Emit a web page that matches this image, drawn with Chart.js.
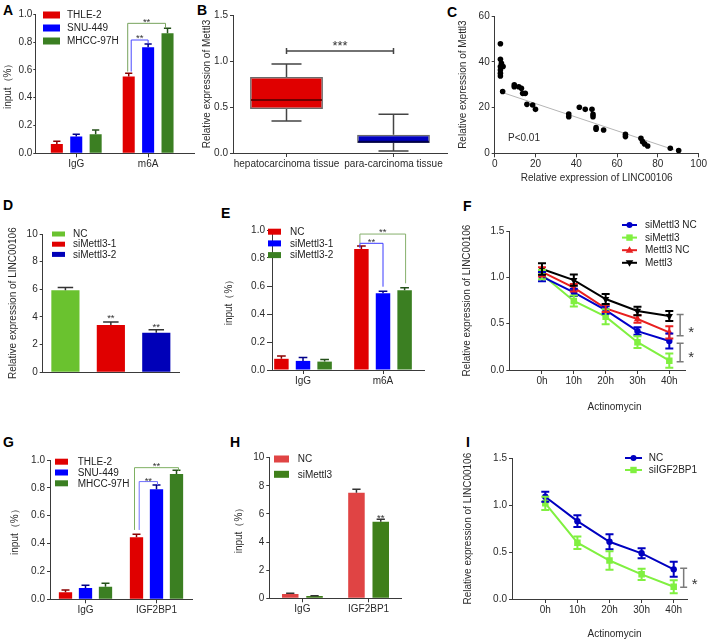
<!DOCTYPE html>
<html><head><meta charset="utf-8">
<script src="https://cdn.jsdelivr.net/npm/chart.js@4.4.1/dist/chart.umd.min.js"></script>
<style>
html,body{margin:0;padding:0;background:#fff;overflow:hidden}
#wrap{position:relative;width:708px;height:642px;background:#fff}
#wrap canvas{position:absolute}
.lt{position:absolute;font:bold 14px 'Liberation Sans',Arial,sans-serif;color:#000;line-height:14px}
</style></head><body><div id="wrap">
<div class="lt" style="left:3px;top:3px">A</div>
<div class="lt" style="left:197px;top:3px">B</div>
<div class="lt" style="left:447px;top:5px">C</div>
<div class="lt" style="left:3px;top:198px">D</div>
<div class="lt" style="left:221px;top:206px">E</div>
<div class="lt" style="left:463px;top:199px">F</div>
<div class="lt" style="left:3px;top:435px">G</div>
<div class="lt" style="left:230px;top:435px">H</div>
<div class="lt" style="left:466px;top:435px">I</div>
</div>
<script>
// ---------------- DATA ----------------
// Panel A
const catA = ['IgG', 'm6A'];
const seriesA = ['THLE-2', 'SNU-449', 'MHCC-97H'];
const valA_THLE = [0.067, 0.552];
const valA_SNU = [0.12, 0.763];
const valA_MHCC = [0.137, 0.863];
const errA_THLE = [0.02, 0.024];
const errA_SNU = [0.017, 0.024];
const errA_MHCC = [0.03, 0.036];
const ticksA = [0, 0.2, 0.4, 0.6, 0.8, 1.0];

// Panel B (box plot)
const catB = ['hepatocarcinoma tissue', 'para-carcinoma tissue'];
const minB = [0.348, 0.022];
const q1B = [0.478, 0.109];
const medB = [0.576, 0.123];
const q3B = [0.826, 0.199];
const maxB = [0.967, 0.42];
const ticksB = [0, 0.5, 1.0, 1.5];

// Panel C (scatter)
const xC = [2.8,2.8,3.3,2.8,2.8,4.1,2.8,2.8,3.9,9.6,9.6,11.8,13.1,13.7,15,15.8,18.6,20,36.3,36.3,41.5,44.4,47.7,48.2,48.2,49.7,49.7,53.4,64.1,64.1,71.7,72.5,73.5,75,86.1,90.2];
const yC = [47.9,41.1,39.3,37.9,36.4,37.9,35,33.8,27,29.9,29.1,29.1,28.4,26.2,26.2,21.4,21.1,19.2,17.2,16,20.1,19.2,19.2,17,16,11.2,10.5,10.2,8.3,7.3,6.6,5.1,4.1,3.2,2.2,1.2];
const fitXC = [4, 88];
const fitYC = [26.5, 1.5];
const ticksCx = [0, 20, 40, 60, 80, 100];
const ticksCy = [0, 20, 40, 60];

// Panel D
const catD = ['NC', 'siMettl3-1', 'siMettl3-2'];
const valD = [5.93, 3.42, 2.86];
const errD = [0.2, 0.22, 0.22];
const ticksD = [0, 2, 4, 6, 8, 10];

// Panel E
const catE = ['IgG', 'm6A'];
const seriesE = ['NC', 'siMettl3-1', 'siMettl3-2'];
const valE_NC = [0.08, 0.865];
const valE_si1 = [0.065, 0.548];
const valE_si2 = [0.06, 0.57];
const errE_NC = [0.02, 0.02];
const errE_si1 = [0.025, 0.015];
const errE_si2 = [0.015, 0.017];

// Panel F
const hoursF = [0, 10, 20, 30, 40];
const seriesF = ['siMettl3 NC', 'siMettl3', 'Mettl3 NC', 'Mettl3'];
const F_siNC = [1.007, 0.838, 0.647, 0.42, 0.313];
const F_si = [1.03, 0.745, 0.575, 0.3, 0.1];
const F_mNC = [1.06, 0.888, 0.665, 0.55, 0.406];
const F_m = [1.09, 0.97, 0.766, 0.637, 0.583];
const errF_siNC = [0.05, 0.04, 0.04, 0.04, 0.08];
const errF_si = [0.05, 0.06, 0.08, 0.063, 0.077];
const errF_mNC = [0.05, 0.04, 0.04, 0.04, 0.067];
const errF_m = [0.063, 0.06, 0.054, 0.045, 0.054];
const ticksLineY = [0, 0.5, 1.0, 1.5];

// Panel G
const catG = ['IgG', 'IGF2BP1'];
const seriesG = ['THLE-2', 'SNU-449', 'MHCC-97H'];
const valG_THLE = [0.05, 0.445];
const valG_SNU = [0.081, 0.79];
const valG_MHCC = [0.09, 0.9];
const errG_THLE = [0.017, 0.022];
const errG_SNU = [0.019, 0.03];
const errG_MHCC = [0.025, 0.026];

// Panel H
const catH = ['IgG', 'IGF2BP1'];
const seriesH = ['NC', 'siMettl3'];
const valH_NC = [0.31, 7.51];
const valH_si = [0.17, 5.45];
const errH_NC = [0.05, 0.24];
const errH_si = [0.02, 0.17];

// Panel I
const hoursI = [0, 10, 20, 30, 40];
const seriesI = ['NC', 'siIGF2BP1'];
const I_NC = [1.09, 0.83, 0.61, 0.487, 0.316];
const I_si = [1.02, 0.6, 0.41, 0.263, 0.13];
const errI_NC = [0.053, 0.062, 0.08, 0.053, 0.08];
const errI_si = [0.07, 0.066, 0.098, 0.06, 0.07];

// ---------------- HELPERS ----------------
const FF = "'Liberation Sans', Arial, Helvetica, sans-serif";
const AX = '#3a3a3a', TX = '#2a2a2a';
Chart.defaults.font.family = FF;
Chart.defaults.color = TX;
Chart.defaults.animation = false;
Chart.defaults.events = [];
Chart.defaults.plugins.legend.display = false;
Chart.defaults.plugins.tooltip.enabled = false;

const wrap = document.getElementById('wrap');
function makeCanvas(id, box) {
  const c = document.createElement('canvas');
  c.id = id; c.width = box[2]; c.height = box[3];
  c.style.left = box[0] + 'px'; c.style.top = box[1] + 'px';
  c.style.width = box[2] + 'px'; c.style.height = box[3] + 'px';
  wrap.appendChild(c); return c;
}
function frame(box, plot) {
  return { box, plot,
    pad: { left: 0, top: plot[1] - box[1], right: box[0] + box[2] - plot[2], bottom: 0 },
    yW: plot[0] - box[0], xH: box[1] + box[3] - plot[3] };
}
const f1 = v => Number(v).toFixed(1);
const f0 = v => String(v);

function yAxis(fr, o) {
  return {
    type: 'linear', position: 'left', min: o.min, max: o.max,
    afterBuildTicks: s => { s.ticks = o.ticks.map(v => ({ value: v })); },
    ticks: { color: TX, font: { family: FF, size: 10 }, padding: o.tp != null ? o.tp : 2, callback: v => o.fmt(v) },
    grid: { drawOnChartArea: false, drawTicks: true, tickLength: o.tl || 3, color: AX, lineWidth: 1 },
    border: { display: true, color: AX, width: 1 },
    title: { display: !!o.title, text: o.title || '', color: TX, font: { family: FF, size: 10 }, padding: { top: o.tpad || 0, bottom: 0 } },
    afterFit: s => { s.width = fr.yW; }
  };
}
function xCat(fr, o) {
  o = o || {};
  return {
    type: 'category', offset: true,
    afterBuildTicks: s => { if (o.start !== undefined) { s._startValue = o.start; s._valueRange = o.range; } },
    ticks: { display: o.labels !== false, color: TX, font: { family: FF, size: 10 }, padding: 1, autoSkip: false, maxRotation: 0, minRotation: 0 },
    grid: { offset: false, drawOnChartArea: false, drawTicks: o.marks !== false, tickLength: o.marks === false ? 0 : 4, color: AX },
    border: { display: true, color: AX, width: 1 },
    afterFit: s => { s.height = fr.xH; }
  };
}
function xLin(fr, o) {
  return {
    type: 'linear', min: o.min, max: o.max,
    afterBuildTicks: s => { s.ticks = o.ticks.map(v => ({ value: v })); },
    ticks: { color: TX, font: { family: FF, size: 10 }, padding: 1, autoSkip: false, maxRotation: 0, minRotation: 0, callback: v => o.fmt(v) },
    grid: { drawOnChartArea: false, drawTicks: true, tickLength: 4, color: AX },
    border: { display: true, color: AX, width: 1 },
    title: { display: !!o.title, text: o.title || '', color: TX, font: { family: FF, size: 10 }, padding: { top: 0, bottom: o.tpb || 0 } },
    afterFit: s => { s.height = fr.xH; }
  };
}

function errPlugin(o) {
  return { id: 'err', afterDatasetsDraw(chart) {
    const ctx = chart.ctx, ys = chart.scales.y;
    chart.data.datasets.forEach((ds, di) => {
      if (!ds.errors) return;
      const meta = chart.getDatasetMeta(di);
      meta.data.forEach((el, i) => {
        const e = ds.errors[i]; if (e == null) return;
        const raw = ds.data[i]; const val = (typeof raw === 'object') ? raw.y : raw;
        const yt = ys.getPixelForValue(val + e);
        const yb = o.both ? ys.getPixelForValue(val - e) : el.y;
        const cw = o.capPx != null ? o.capPx : el.width * o.capRatio;
        const col = Array.isArray(ds.errorColor) ? ds.errorColor[i] : (ds.errorColor || ds.borderColor);
        ctx.save(); ctx.strokeStyle = col; ctx.lineWidth = o.lw; ctx.beginPath();
        ctx.moveTo(el.x, yb); ctx.lineTo(el.x, yt);
        ctx.moveTo(el.x - cw / 2, yt); ctx.lineTo(el.x + cw / 2, yt);
        if (o.both) { ctx.moveTo(el.x - cw / 2, yb); ctx.lineTo(el.x + cw / 2, yb); }
        ctx.stroke(); ctx.restore();
      });
    });
  } };
}

function sigPlugin(items) {
  return { id: 'sig', afterDatasetsDraw(chart) {
    const ctx = chart.ctx, ys = chart.scales.y, xs = chart.scales.x;
    const bx = r => chart.getDatasetMeta(r[0]).data[r[1]].x + (r[2] || 0);
    const Y = v => ys.getPixelForValue(v);
    ctx.save();
    items.forEach(it => {
      ctx.strokeStyle = it.color || '#444'; ctx.lineWidth = it.lw || 1;
      let tx = 0;
      if (it.t === 'br') {
        const x1 = bx(it.a), x2 = bx(it.b);
        ctx.beginPath(); ctx.moveTo(x1, Y(it.ya)); ctx.lineTo(x1, Y(it.y)); ctx.lineTo(x2, Y(it.y)); ctx.lineTo(x2, Y(it.yb)); ctx.stroke();
        tx = (x1 + x2) / 2;
      } else if (it.t === 'hb') {
        const x1 = xs.getPixelForValue(it.a), x2 = xs.getPixelForValue(it.b), y = Y(it.y);
        ctx.beginPath(); ctx.moveTo(x1, y); ctx.lineTo(x2, y);
        ctx.moveTo(x1, y - it.cap); ctx.lineTo(x1, y + it.cap); ctx.moveTo(x2, y - it.cap); ctx.lineTo(x2, y + it.cap); ctx.stroke();
        tx = (x1 + x2) / 2;
      } else if (it.t === 'vb') {
        const x = xs.getPixelForValue(it.x), y1 = Y(it.y1), y2 = Y(it.y2);
        ctx.beginPath(); ctx.moveTo(x, y1); ctx.lineTo(x, y2);
        ctx.moveTo(x - it.cap, y1); ctx.lineTo(x + it.cap, y1); ctx.moveTo(x - it.cap, y2); ctx.lineTo(x + it.cap, y2); ctx.stroke();
        tx = x + it.tdx;
      } else if (it.t === 'st') {
        tx = bx(it.a);
      }
      if (it.text) {
        const sz = it.size || 9.5;
        ctx.fillStyle = it.tcolor || '#333'; ctx.font = sz + 'px ' + FF; ctx.textAlign = 'center'; ctx.textBaseline = 'alphabetic';
        ctx.fillText(it.text, tx, Y(it.ty) + 0.57 * sz);
      }
    });
    ctx.restore();
  } };
}

function textPlugin(fr, items) {
  return { id: 'txt', afterDraw(chart) {
    const ctx = chart.ctx; ctx.save();
    items.forEach(it => {
      ctx.fillStyle = it.color || TX; ctx.font = (it.size || 10) + 'px ' + FF;
      ctx.textAlign = it.align || 'center'; ctx.textBaseline = 'middle';
      ctx.fillText(it.text, it.x - fr.box[0], it.y - fr.box[1]);
    });
    ctx.restore();
  } };
}

function marker(ctx, m, x, y, color) {
  ctx.fillStyle = color; ctx.beginPath();
  if (m === 'circle') { ctx.arc(x, y, 3, 0, Math.PI * 2); }
  else if (m === 'rect') { ctx.rect(x - 3.2, y - 3.2, 6.4, 6.4); }
  else if (m === 'up') { ctx.moveTo(x, y - 4); ctx.lineTo(x + 3.8, y + 2.6); ctx.lineTo(x - 3.8, y + 2.6); ctx.closePath(); }
  else if (m === 'down') { ctx.moveTo(x, y + 4); ctx.lineTo(x + 3.8, y - 2.6); ctx.lineTo(x - 3.8, y - 2.6); ctx.closePath(); }
  ctx.fill();
}

function legendPlugin(fr, L) {
  return { id: 'leg', afterDraw(chart) {
    if (!L) return;
    const ctx = chart.ctx, ox = fr.box[0], oy = fr.box[1];
    ctx.save(); ctx.font = (L.size || 10) + 'px ' + FF; ctx.textBaseline = 'middle'; ctx.textAlign = 'left';
    L.items.forEach((it, i) => {
      const y = L.y + i * L.dy - oy;
      if (L.kind === 'box') { ctx.fillStyle = it.color; ctx.fillRect(L.x - ox, y - L.bh / 2, L.bw, L.bh); }
      else {
        ctx.strokeStyle = it.color; ctx.lineWidth = 2; ctx.beginPath();
        ctx.moveTo(L.x - ox, y); ctx.lineTo(L.x2 - ox, y); ctx.stroke();
        marker(ctx, it.marker, (L.x + L.x2) / 2 - ox, y, it.color);
      }
      ctx.fillStyle = '#222'; ctx.fillText(it.text, L.tx - ox, y + 0.5);
    });
    ctx.restore();
  } };
}

function boxPlugin(fr, colorsMed) {
  return { id: 'box', afterDatasetsDraw(chart) {
    const ctx = chart.ctx, ys = chart.scales.y, meta = chart.getDatasetMeta(0);
    ctx.save();
    meta.data.forEach((el, i) => {
      const x = el.x, w = 30;
      ctx.strokeStyle = '#444'; ctx.lineWidth = 1.5; ctx.beginPath();
      ctx.moveTo(x, ys.getPixelForValue(q3B[i])); ctx.lineTo(x, ys.getPixelForValue(maxB[i]));
      ctx.moveTo(x - w / 2, ys.getPixelForValue(maxB[i])); ctx.lineTo(x + w / 2, ys.getPixelForValue(maxB[i]));
      ctx.moveTo(x, ys.getPixelForValue(q1B[i])); ctx.lineTo(x, ys.getPixelForValue(minB[i]));
      ctx.moveTo(x - w / 2, ys.getPixelForValue(minB[i])); ctx.lineTo(x + w / 2, ys.getPixelForValue(minB[i]));
      ctx.stroke();
      ctx.strokeStyle = colorsMed[i]; ctx.lineWidth = 2; ctx.beginPath();
      const ym = ys.getPixelForValue(medB[i]);
      ctx.moveTo(x - el.width / 2 + 1, ym); ctx.lineTo(x + el.width / 2 - 1, ym); ctx.stroke();
    });
    ctx.restore();
  } };
}

function barChart(id, fr, cats, series, vals, errs, colors, errColors, o) {
  const datasets = series.map((s, i) => ({ label: s, data: vals[i], errors: errs[i], backgroundColor: colors[i],
    borderColor: colors[i], borderWidth: 0, errorColor: errColors[i], barPercentage: o.bp, categoryPercentage: o.cp }));
  return new Chart(makeCanvas(id, fr.box), {
    type: 'bar', data: { labels: cats, datasets },
    options: { responsive: false, maintainAspectRatio: false, layout: { padding: fr.pad },
      scales: { x: xCat(fr, o.x), y: yAxis(fr, o.y) } },
    plugins: [errPlugin({ capRatio: o.capRatio || 0.6, lw: o.lw || 1.5 }), sigPlugin(o.sig || []), legendPlugin(fr, o.leg), textPlugin(fr, o.texts || [])]
  });
}

function lineChart(id, fr, hours, series, vals, errs, styles, o) {
  const datasets = series.map((s, i) => ({
    label: s, data: hours.map((h, k) => ({ x: h, y: vals[i][k] })), errors: errs[i],
    borderColor: styles[i].color, backgroundColor: styles[i].color, borderWidth: 2,
    pointStyle: styles[i].ps, pointRadius: styles[i].r, pointRotation: styles[i].rot || 0, pointBorderWidth: 0,
    errorColor: styles[i].color, tension: 0, fill: false
  }));
  return new Chart(makeCanvas(id, fr.box), {
    type: 'line', data: { datasets },
    options: { responsive: false, maintainAspectRatio: false, layout: { padding: fr.pad },
      scales: { x: xLin(fr, o.x), y: yAxis(fr, o.y) } },
    plugins: [errPlugin({ both: true, capPx: 8, lw: 2 }), sigPlugin(o.sig || []), legendPlugin(fr, o.leg), textPlugin(fr, o.texts || [])]
  });
}

const YT_IN = 'input（%）';
const YT_LINC = 'Relative expression of LINC00106';

// ---------------- PANEL A ----------------
const frA = frame([0, 0, 236, 200], [35.3, 14.3, 194, 153.3]);
const colA = ['#e00000', '#0000ff', '#3b7f22'];
barChart('cA', frA, catA, seriesA, [valA_THLE, valA_SNU, valA_MHCC], [errA_THLE, errA_SNU, errA_MHCC],
  colA, ['#8a0000', '#00008a', '#24501a'], {
    bp: 0.62, cp: 0.81, capRatio: 0.6,
    x: { start: -0.5697, range: 2.208 },
    y: { min: 0, max: 1, ticks: ticksA, fmt: f1, title: YT_IN, tpad: 2, tl: 2, tp: 1 },
    leg: { kind: 'box', x: 43, bw: 17, bh: 7, tx: 67, y: 15, dy: 13, items: seriesA.map((s, i) => ({ text: s, color: colA[i] })) },
    sig: [
      { t: 'br', a: [0, 1, -1], b: [2, 1, -2], y: 0.935, ya: 0.588, yb: 0.9, color: '#76a35c', text: '**', ty: 0.963 },
      { t: 'br', a: [0, 1, 2.5], b: [1, 1, 0], y: 0.815, ya: 0.588, yb: 0.79, color: '#4a4aff', text: '**', ty: 0.85 }
    ]
  });

// ---------------- PANEL B ----------------
const frB = frame([190, 0, 270, 200], [233, 15, 447, 153]);
new Chart(makeCanvas('cB', frB.box), {
  type: 'bar',
  data: { labels: catB, datasets: [{ label: 'box', data: q1B.map((q, i) => [q, q3B[i]]),
    backgroundColor: ['#e00000', '#0000c0'], borderColor: '#6a6a6a', borderWidth: 1.5, borderSkipped: false,
    barPercentage: 0.68, categoryPercentage: 1 }] },
  options: { responsive: false, maintainAspectRatio: false, layout: { padding: frB.pad },
    scales: { x: xCat(frB, {}), y: yAxis(frB, { min: 0, max: 1.5, ticks: ticksB, fmt: f1, title: 'Relative expression of Mettl3', tpad: 11 }) } },
  plugins: [boxPlugin(frB, ['#6e0000', '#00004e']),
    sigPlugin([{ t: 'hb', a: 0, b: 1, y: 1.11, cap: 3, color: '#444', lw: 1.5, text: '***', ty: 1.2, size: 13 }])]
});

// ---------------- PANEL C ----------------
const frC = frame([455, 0, 253, 200], [494.7, 16, 698.7, 153.3]);
new Chart(makeCanvas('cC', frC.box), {
  type: 'scatter',
  data: { datasets: [
    { label: 'samples', data: xC.map((x, i) => ({ x, y: yC[i] })), backgroundColor: '#000', borderColor: '#000', pointRadius: 2.8, borderWidth: 0 },
    { label: 'fit', data: fitXC.map((x, i) => ({ x, y: fitYC[i] })), showLine: true, borderColor: '#b5b5b5', borderWidth: 1, pointRadius: 0 }
  ] },
  options: { responsive: false, maintainAspectRatio: false, layout: { padding: frC.pad },
    scales: {
      x: xLin(frC, { min: 0, max: 100, ticks: ticksCx, fmt: f0, title: YT_LINC, tpb: 16 }),
      y: yAxis(frC, { min: 0, max: 60, ticks: ticksCy, fmt: f0, title: 'Relative expression of Mettl3', tpad: 2.5 })
    } },
  plugins: [textPlugin(frC, [{ x: 508, y: 138, text: 'P<0.01', align: 'left' }])]
});

// ---------------- PANEL D ----------------
const frD = frame([0, 200, 236, 215], [42.7, 234, 179, 372.3]);
const colD = ['#6ac22f', '#e00000', '#0000b8'];
barChart('cD', frD, catD, ['LINC00106'], [valD], [errD], [colD], ['#333'], {
  bp: 0.62, cp: 1, capRatio: 0.55,
  x: { labels: false, marks: false },
  y: { min: 0, max: 10, ticks: ticksD, fmt: f0, title: YT_LINC, tpad: 7 },
  leg: { kind: 'box', x: 52, bw: 13, bh: 5, tx: 73, y: 234, dy: 10.2, items: catD.map((s, i) => ({ text: s, color: colD[i] })) },
  sig: [
    { t: 'st', a: [0, 1], text: '**', ty: 4.07 },
    { t: 'st', a: [0, 2], text: '**', ty: 3.47 }
  ]
});

// ---------------- PANEL E ----------------
const frE = frame([220, 200, 236, 215], [272, 230, 424, 370]);
const colE = ['#e00000', '#0000ff', '#3b7f22'];
barChart('cE', frE, catE, seriesE, [valE_NC, valE_si1, valE_si2], [errE_NC, errE_si1, errE_si2],
  colE, ['#8a0000', '#00008a', '#24501a'], {
    bp: 0.67, cp: 0.81, capRatio: 0.6,
    x: { start: -0.3876, range: 1.9 },
    y: { min: 0, max: 1, ticks: ticksA, fmt: f1, title: YT_IN, tpad: 3, tl: 5, tp: 2 },
    leg: { kind: 'box', x: 268, bw: 13, bh: 6, tx: 290, y: 231.7, dy: 11.7, items: seriesE.map((s, i) => ({ text: s, color: colE[i] })) },
    sig: [
      { t: 'br', a: [0, 1, -1.5], b: [1, 1, 0], y: 0.905, ya: 0.87, yb: 0.595, color: '#3a3aff', text: '**', ty: 0.929 },
      { t: 'br', a: [0, 1, -1.5], b: [2, 1, 1], y: 0.971, ya: 0.905, yb: 0.619, color: '#86b06c', text: '**', ty: 1.0 }
    ]
  });

// ---------------- PANEL F ----------------
const frF = frame([460, 200, 248, 215], [509.3, 231, 685, 370]);
const styF = [
  { color: '#0000c8', ps: 'circle', r: 3.2, m: 'circle' },
  { color: '#80f040', ps: 'rect', r: 4.6, m: 'rect' },
  { color: '#e82020', ps: 'triangle', r: 4.2, m: 'up' },
  { color: '#000000', ps: 'triangle', r: 4.2, rot: 180, m: 'down' }
];
lineChart('cF', frF, hoursF, seriesF, [F_siNC, F_si, F_mNC, F_m], [errF_siNC, errF_si, errF_mNC, errF_m], styF, {
  x: { min: -10.27, max: 44.93, ticks: hoursF, fmt: v => v + 'h' },
  y: { min: 0, max: 1.5, ticks: ticksLineY, fmt: f1, title: YT_LINC, tpad: 1 },
  leg: { kind: 'line', x: 622, x2: 637, tx: 645, y: 225, dy: 12.6, items: seriesF.map((s, i) => ({ text: s, color: styF[i].color, marker: styF[i].m })) },
  sig: [
    { t: 'vb', x: 43.4, y1: 0.6, y2: 0.37, cap: 3.5, color: '#7a7a7a', lw: 1.5, text: '*', ty: 0.45, tdx: 11, size: 15 },
    { t: 'vb', x: 43.4, y1: 0.288, y2: 0.09, cap: 3.5, color: '#7a7a7a', lw: 1.5, text: '*', ty: 0.18, tdx: 11, size: 15 }
  ],
  texts: [{ x: 614.5, y: 407, text: 'Actinomycin' }]
});

// ---------------- PANEL G ----------------
const frG = frame([0, 415, 236, 227], [50, 460, 192, 599.3]);
const colG = ['#e00000', '#0000ff', '#3b7f22'];
barChart('cG', frG, catG, seriesG, [valG_THLE, valG_SNU, valG_MHCC], [errG_THLE, errG_SNU, errG_MHCC],
  colG, ['#8a0000', '#00008a', '#24501a'], {
    bp: 0.665, cp: 0.845, capRatio: 0.6,
    x: {},
    y: { min: 0, max: 1, ticks: ticksA, fmt: f1, title: YT_IN, tpad: 9, tl: 3, tp: 2 },
    leg: { kind: 'box', x: 55, bw: 13, bh: 6, tx: 77.7, y: 461.7, dy: 10.8, items: seriesG.map((s, i) => ({ text: s, color: colG[i] })) },
    sig: [
      { t: 'br', a: [0, 1, -2], b: [2, 1, 2], y: 0.945, ya: 0.498, yb: 0.923, color: '#7eb062', text: '**', ty: 0.976 },
      { t: 'br', a: [0, 1, 2.7], b: [1, 1, 1], y: 0.845, ya: 0.498, yb: 0.82, color: '#7070ff', text: '**', ty: 0.864 }
    ]
  });

// ---------------- PANEL H ----------------
const frH = frame([226, 415, 236, 227], [269.3, 457.7, 401.7, 598.3]);
const colH = ['#e04444', '#3f7f1a'];
barChart('cH', frH, catH, seriesH, [valH_NC, valH_si], [errH_NC, errH_si], colH, ['#333', '#333'], {
  bp: 0.68, cp: 0.734, capRatio: 0.5,
  x: {},
  y: { min: 0, max: 10, ticks: ticksD, fmt: f0, title: YT_IN, tpad: 7 },
  leg: { kind: 'box', x: 274, bw: 15, bh: 7, tx: 297.7, y: 459, dy: 15.3, items: seriesH.map((s, i) => ({ text: s, color: colH[i] })) },
  sig: [{ t: 'st', a: [1, 1], text: '**', ty: 5.85 }]
});

// ---------------- PANEL I ----------------
const frI = frame([462, 415, 246, 227], [512, 458.3, 687, 599]);
const styI = [
  { color: '#0000c0', ps: 'circle', r: 3.2, m: 'circle' },
  { color: '#80f040', ps: 'rect', r: 4.6, m: 'rect' }
];
lineChart('cI', frI, hoursI, seriesI, [I_NC, I_si], [errI_NC, errI_si], styI, {
  x: { min: -10.37, max: 44.14, ticks: hoursI, fmt: v => v + 'h' },
  y: { min: 0, max: 1.5, ticks: ticksLineY, fmt: f1, title: YT_LINC, tpad: 0.5 },
  leg: { kind: 'line', x: 625, x2: 642, tx: 648.7, y: 458, dy: 12, items: seriesI.map((s, i) => ({ text: s, color: styI[i].color, marker: styI[i].m })) },
  sig: [{ t: 'vb', x: 43.1, y1: 0.327, y2: 0.125, cap: 3.5, color: '#7a7a7a', lw: 1.5, text: '*', ty: 0.2, tdx: 11, size: 15 }],
  texts: [{ x: 614.5, y: 634, text: 'Actinomycin' }]
});
</script></body></html>
